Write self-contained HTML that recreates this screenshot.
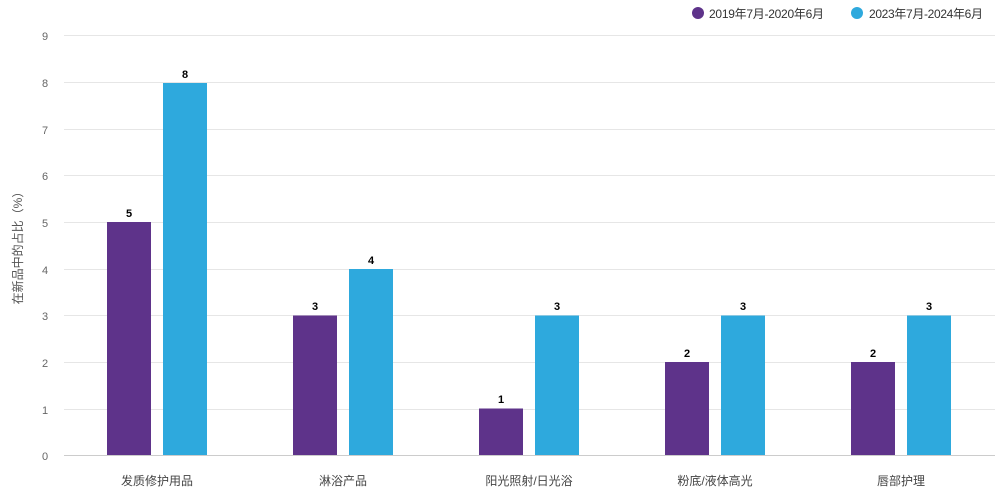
<!DOCTYPE html>
<html><head><meta charset="utf-8"><style>
html,body{margin:0;padding:0;background:#fff;}
svg{display:block;font-family:"Liberation Sans","Noto Sans CJK SC",sans-serif;}
</style></head><body>
<svg width="1007" height="495" viewBox="0 0 1007 495">
<g stroke="#e6e6e6" stroke-width="1">
<line x1="64" x2="995" y1="35.5" y2="35.5"/>
<line x1="64" x2="995" y1="82.5" y2="82.5"/>
<line x1="64" x2="995" y1="129.5" y2="129.5"/>
<line x1="64" x2="995" y1="175.5" y2="175.5"/>
<line x1="64" x2="995" y1="222.5" y2="222.5"/>
<line x1="64" x2="995" y1="269.5" y2="269.5"/>
<line x1="64" x2="995" y1="315.5" y2="315.5"/>
<line x1="64" x2="995" y1="362.5" y2="362.5"/>
<line x1="64" x2="995" y1="409.5" y2="409.5"/>
</g>
<line x1="64" x2="995" y1="455.5" y2="455.5" stroke="#ccc"/>
<g font-size="11" fill="#666" text-anchor="middle">
<text x="45" y="40">9</text><text x="45" y="87">8</text><text x="45" y="134">7</text>
<text x="45" y="180">6</text><text x="45" y="227">5</text><text x="45" y="274">4</text>
<text x="45" y="320">3</text><text x="45" y="367">2</text><text x="45" y="414">1</text>
<text x="45" y="460">0</text>
</g>
<text transform="translate(22,245) rotate(-90)" font-size="12" fill="#555" text-anchor="middle">在新品中的占比（%）</text>
<g fill="#5e338a">
<rect x="107" y="222" width="44" height="233"/>
<rect x="293" y="315.5" width="44" height="139.5"/>
<rect x="479" y="408.5" width="44" height="46.5"/>
<rect x="665" y="362" width="44" height="93"/>
<rect x="851" y="362" width="44" height="93"/>
</g>
<g fill="#2ea9dd">
<rect x="163" y="83" width="44" height="372"/>
<rect x="349" y="269" width="44" height="186"/>
<rect x="535" y="315.5" width="44" height="139.5"/>
<rect x="721" y="315.5" width="44" height="139.5"/>
<rect x="907" y="315.5" width="44" height="139.5"/>
</g>
<g font-size="11" font-weight="bold" fill="#000" text-anchor="middle">
<text x="129" y="217">5</text><text x="185" y="78">8</text>
<text x="315" y="310">3</text><text x="371" y="264">4</text>
<text x="501" y="403">1</text><text x="557" y="310">3</text>
<text x="687" y="357">2</text><text x="743" y="310">3</text>
<text x="873" y="357">2</text><text x="929" y="310">3</text>
</g>
<g font-size="12" fill="#444" text-anchor="middle">
<text x="157" y="485">发质修护用品</text>
<text x="343" y="485">淋浴产品</text>
<text x="529" y="485">阳光照射/日光浴</text>
<text x="715" y="485">粉底/液体高光</text>
<text x="901" y="485">唇部护理</text>
</g>
<circle cx="698" cy="13" r="6" fill="#5e338a"/>
<text x="709" y="18" font-size="12" fill="#333" textLength="115">2019年7月-2020年6月</text>
<circle cx="857" cy="13" r="6" fill="#2ea9dd"/>
<text x="869" y="18" font-size="12" fill="#333" textLength="114">2023年7月-2024年6月</text>
</svg>
</body></html>
